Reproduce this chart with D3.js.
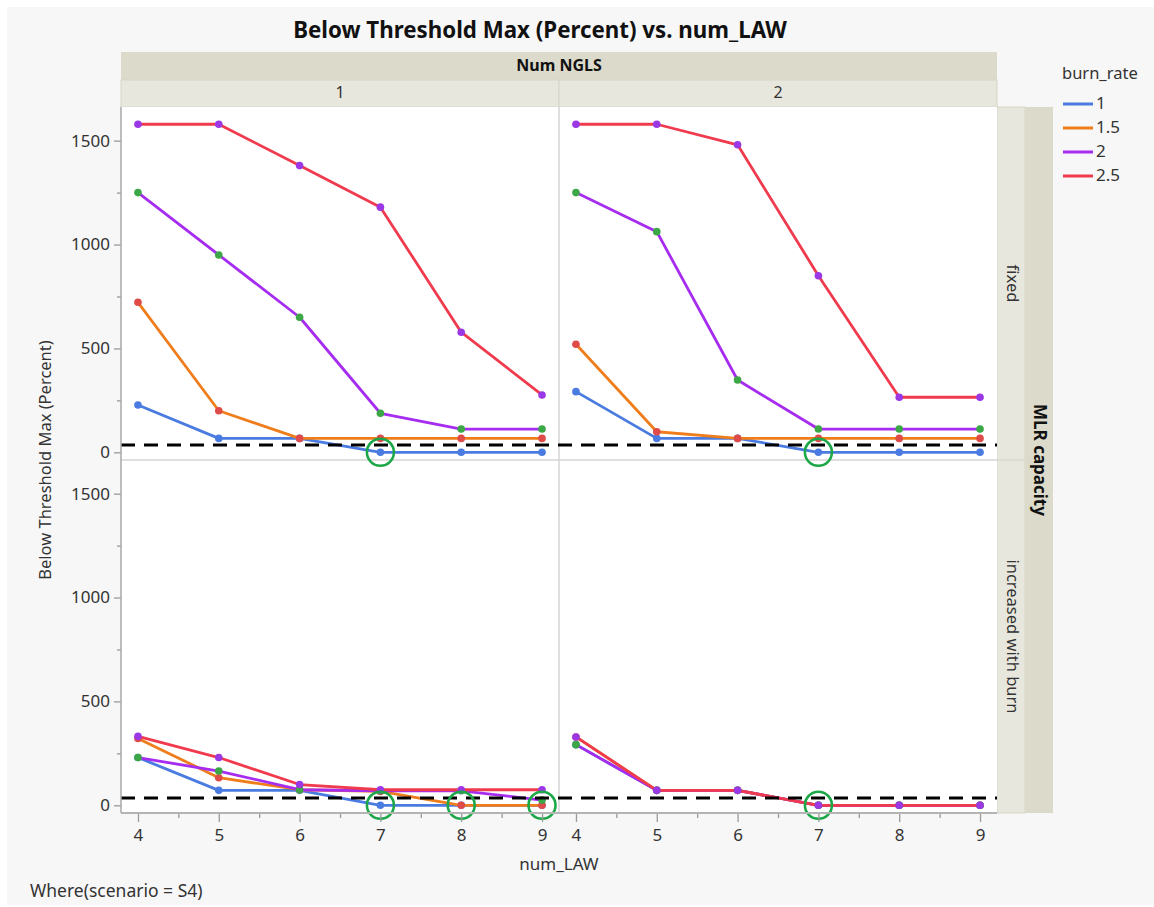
<!DOCTYPE html>
<html>
<head>
<meta charset="utf-8">
<script src="https://cdn.jsdelivr.net/npm/d3@7"></script>
<style>
  html, body { margin: 0; padding: 0; background: #ffffff; }
  svg { display: block; }
  text { font-family: "Noto Sans", "Open Sans", sans-serif; fill: #333; }
</style>
</head>
<body>
<svg id="chart" width="1154" height="907"></svg>
<script>
// ---------------- data ----------------
const numLAW = [4, 5, 6, 7, 8, 9];
const burnRates = ["1", "1.5", "2", "2.5"];
const nglsLevels = ["1", "2"];
const mlrLevels = ["fixed", "increased with burn"];
const yTicks = [0, 500, 1000, 1500];
const yMinorTicks = [250, 750, 1250];
const xMinorTicks = [4.5, 5.5, 6.5, 7.5, 8.5];
const threshold = 35;

// MLR capacity = fixed, Num NGLS = 1
const fix1_br1  = [228, 67, 67, 0, 0, 0];
const fix1_br15 = [722, 200, 67, 67, 67, 67];
const fix1_br2  = [1250, 950, 650, 188, 112, 112];
const fix1_br25 = [1579, 1579, 1380, 1180, 578, 276];
// MLR capacity = fixed, Num NGLS = 2
const fix2_br1  = [292, 67, 67, 0, 0, 0];
const fix2_br15 = [520, 99, 67, 67, 67, 67];
const fix2_br2  = [1250, 1062, 348, 112, 112, 112];
const fix2_br25 = [1579, 1579, 1480, 850, 265, 265];
// MLR capacity = increased with burn, Num NGLS = 1
const inc1_br1  = [230, 72, 72, 0, 0, 0];
const inc1_br15 = [322, 133, 75, 67, 0, 0];
const inc1_br2  = [230, 165, 75, 70, 70, 25];
const inc1_br25 = [332, 230, 100, 75, 75, 75];
// MLR capacity = increased with burn, Num NGLS = 2
const inc2_br1  = [292, 72, 72, 0, 0, 0];
const inc2_br15 = [329, 72, 72, 0, 0, 0];
const inc2_br2  = [292, 72, 72, 0, 0, 0];
const inc2_br25 = [329, 72, 72, 0, 0, 0];

// highlighted (circled) points: mlr row, ngls column, num_LAW, value
const highlightRow = [0, 0, 1, 1, 1, 1];
const highlightCol = [0, 1, 0, 0, 0, 1];
const highlightLAW = [7, 7, 7, 8, 9, 7];
const highlightVal = [0, 0, 0, 0, 0, 0];

const panelSeries = [
  [[fix1_br1, fix1_br15, fix1_br2, fix1_br25], [fix2_br1, fix2_br15, fix2_br2, fix2_br25]],
  [[inc1_br1, inc1_br15, inc1_br2, inc1_br25], [inc2_br1, inc2_br15, inc2_br2, inc2_br25]]
];

// ---------------- style ----------------
const lineColors = ["#4a7be0", "#ef7d1c", "#a62cf0", "#f03a4e"];
const markerColors = ["#4a7be0", "#de4b48", "#3ba746", "#9b38e6"];

const svg = d3.select("#chart");
svg.append("rect").attr("x", 7).attr("y", 7).attr("width", 1147).attr("height", 898).attr("fill", "#f7f7f7");

const plotLeft = 121, plotRight = 997, plotTop = 107, plotBottom = 813;
const colW = (plotRight - plotLeft) / 2;
const rowH = (plotBottom - plotTop) / 2;

const x = d3.scaleLinear().domain([4 - 0.21, 9 + 0.21]).range([0, colW]);
const y = d3.scaleLinear().domain([-37, 1662]).range([rowH, 0]);

// title
svg.append("text").attr("x", 540).attr("y", 32).attr("text-anchor", "middle")
  .attr("dominant-baseline", "middle").style("font-weight", "bold").style("font-size", "22.3px")
  .style("fill", "#111").text("Below Threshold Max (Percent) vs. num_LAW");

// header bands
svg.append("rect").attr("x", plotLeft).attr("y", 52).attr("width", plotRight - plotLeft).attr("height", 28).attr("fill", "#dcdacb");
svg.append("text").attr("x", (plotLeft + plotRight) / 2).attr("y", 66.5).attr("text-anchor", "middle")
  .attr("dominant-baseline", "middle").style("font-weight", "bold").style("font-size", "16px").style("fill", "#111").text("Num NGLS");
nglsLevels.forEach((lv, i) => {
  svg.append("rect").attr("x", plotLeft + i * colW).attr("y", 80).attr("width", colW).attr("height", 27)
    .attr("fill", "#e8e7de").attr("stroke", "#d6d5c8").attr("stroke-width", 1);
  svg.append("text").attr("x", plotLeft + i * colW + colW / 2).attr("y", 94).attr("text-anchor", "middle")
    .attr("dominant-baseline", "middle").style("font-size", "16px").text(lv);
});

// right strips
mlrLevels.forEach((lv, r) => {
  svg.append("rect").attr("x", plotRight).attr("y", plotTop + r * rowH).attr("width", 28).attr("height", rowH)
    .attr("fill", "#e8e7de").attr("stroke", "#d6d5c8").attr("stroke-width", 1);
  svg.append("text").attr("transform", `translate(${plotRight + 14},${plotTop + r * rowH + rowH / 2}) rotate(90)`)
    .attr("text-anchor", "middle").attr("dominant-baseline", "middle").style("font-size", "16.5px").text(lv);
});
svg.append("rect").attr("x", plotRight + 28).attr("y", plotTop).attr("width", 28).attr("height", plotBottom - plotTop).attr("fill", "#dcdacb");
svg.append("text").attr("transform", `translate(${plotRight + 42},${(plotTop + plotBottom) / 2}) rotate(90)`)
  .attr("text-anchor", "middle").attr("dominant-baseline", "middle").style("font-weight", "bold").style("font-size", "17px")
  .style("fill", "#111").text("MLR capacity");

// panels
for (let r = 0; r < 2; r++) {
  for (let c = 0; c < 2; c++) {
    const g = svg.append("g").attr("transform", `translate(${plotLeft + c * colW},${plotTop + r * rowH})`);
    g.append("rect").attr("width", colW).attr("height", rowH).attr("fill", "#ffffff");
    const clipId = `clip${r}${c}`;
    g.append("clipPath").attr("id", clipId).append("rect").attr("x", -2).attr("y", 0).attr("width", colW + 4).attr("height", rowH);
    const pg = g.append("g").attr("clip-path", `url(#${clipId})`);
    const line = d3.line().x((d, i) => x(numLAW[i])).y(d => y(d));
    panelSeries[r][c].forEach((vals, s) => {
      pg.append("path").datum(vals).attr("d", line).attr("fill", "none")
        .attr("stroke", lineColors[s]).attr("stroke-width", 2.8).attr("stroke-linejoin", "round");
      pg.selectAll(null).data(vals).enter().append("circle")
        .attr("cx", (d, i) => x(numLAW[i])).attr("cy", d => y(d)).attr("r", 3.8)
        .attr("fill", markerColors[s]);
    });
  }
}

// panel separators
svg.append("line").attr("x1", plotLeft + colW).attr("x2", plotLeft + colW).attr("y1", plotTop).attr("y2", plotBottom)
  .attr("stroke", "#d4d4d4").attr("stroke-width", 1.5);
svg.append("line").attr("x1", plotLeft).attr("x2", plotRight).attr("y1", plotTop + rowH).attr("y2", plotTop + rowH)
  .attr("stroke", "#d4d4d4").attr("stroke-width", 1.5);

// threshold lines
for (let r = 0; r < 2; r++) {
  svg.append("line").attr("x1", plotLeft).attr("x2", plotRight)
    .attr("y1", plotTop + r * rowH + y(threshold)).attr("y2", plotTop + r * rowH + y(threshold))
    .attr("stroke", "#000").attr("stroke-width", 3).attr("stroke-dasharray", "14,9");
}

// highlight circles
highlightLAW.forEach((law, i) => {
  svg.append("circle")
    .attr("cx", plotLeft + highlightCol[i] * colW + x(law))
    .attr("cy", plotTop + highlightRow[i] * rowH + y(highlightVal[i]))
    .attr("r", 13.5).attr("fill", "none").attr("stroke", "#1ca848").attr("stroke-width", 2.6);
});

// y axes
for (let r = 0; r < 2; r++) {
  const ag = svg.append("g").attr("transform", `translate(${plotLeft},${plotTop + r * rowH})`);
  ag.call(d3.axisLeft(y).tickValues(yTicks).tickSize(7).tickPadding(4).tickFormat(d3.format("d")));
  ag.append("g").call(d3.axisLeft(y).tickValues(yMinorTicks).tickSize(4).tickFormat(""));
  ag.selectAll("path.domain").remove();
  ag.selectAll(".tick line").attr("stroke", "#9a9a9a").attr("stroke-width", 1.3);
  ag.selectAll(".tick text").style("font-size", "17px").style("fill", "#333").style("font-family", "'Noto Sans', sans-serif");
}
svg.append("line").attr("x1", plotLeft).attr("x2", plotLeft).attr("y1", plotTop).attr("y2", plotBottom)
  .attr("stroke", "#a8a8a8").attr("stroke-width", 1.5);

// x axes
for (let c = 0; c < 2; c++) {
  const ag = svg.append("g").attr("transform", `translate(${plotLeft + c * colW},${plotBottom})`);
  ag.call(d3.axisBottom(x).tickValues(numLAW).tickSize(9).tickPadding(7).tickFormat(d3.format("d")));
  ag.append("g").call(d3.axisBottom(x).tickValues(xMinorTicks).tickSize(5).tickFormat(""));
  ag.selectAll("path.domain").remove();
  ag.selectAll(".tick line").attr("stroke", "#9a9a9a").attr("stroke-width", 1.3);
  ag.selectAll(".tick text").style("font-size", "17px").style("fill", "#333").style("font-family", "'Noto Sans', sans-serif");
}
svg.append("line").attr("x1", plotLeft).attr("x2", plotRight).attr("y1", plotBottom).attr("y2", plotBottom)
  .attr("stroke", "#b4b4b4").attr("stroke-width", 2);

// axis titles
svg.append("text").attr("x", (plotLeft + plotRight) / 2).attr("y", 865).attr("text-anchor", "middle")
  .attr("dominant-baseline", "middle").style("font-size", "17px").text("num_LAW");
svg.append("text").attr("transform", `translate(47,${(plotTop + plotBottom) / 2}) rotate(-90)`)
  .attr("text-anchor", "middle").attr("dominant-baseline", "middle").style("font-size", "16.5px").text("Below Threshold Max (Percent)");

// footer
svg.append("text").attr("x", 30).attr("y", 892).attr("dominant-baseline", "middle").style("font-size", "17.5px")
  .text("Where(scenario = S4)");

// legend
svg.append("text").attr("x", 1062).attr("y", 75).attr("dominant-baseline", "middle").style("font-size", "16.5px").text("burn_rate");
burnRates.forEach((br, i) => {
  const yy = 104 + i * 24;
  svg.append("line").attr("x1", 1063).attr("x2", 1093).attr("y1", yy).attr("y2", yy)
    .attr("stroke", lineColors[i]).attr("stroke-width", 3);
  svg.append("text").attr("x", 1096).attr("y", yy).attr("dominant-baseline", "middle").style("font-size", "17px").text(br);
});
</script>
</body>
</html>
